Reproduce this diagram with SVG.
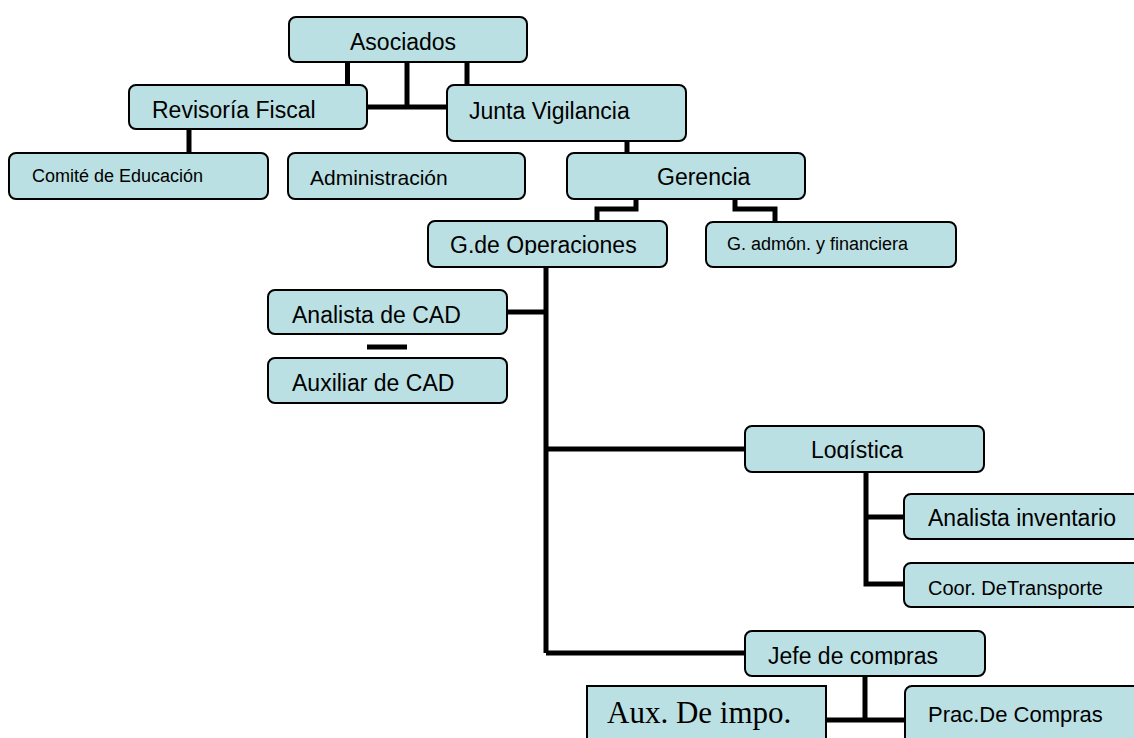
<svg xmlns="http://www.w3.org/2000/svg" width="1134" height="738" viewBox="0 0 1134 738">
<style>
.box{fill:#BBE0E3;stroke:#000;stroke-width:2}
.t{font-family:"Liberation Sans",Arial,sans-serif;font-size:23px;fill:#000}
.s{font-size:18px}
.serif{font-family:"Liberation Serif","Times New Roman",serif;font-size:31px;fill:#000}
.c{fill:none;stroke:#000;stroke-width:5}
</style>
<defs>
<clipPath id="cGop"><rect x="428" y="221" width="239" height="34"/></clipPath>
<clipPath id="cLog"><rect x="745" y="426" width="239" height="33"/></clipPath>
<clipPath id="cJefe"><rect x="745" y="631" width="240" height="34"/></clipPath>
</defs>
<rect width="1134" height="738" fill="#fff"/>
<g id="connectors">
<path class="c" d="M347.5 62V85M467 62V85M407 62V107M367 107H447"/>
<path class="c" d="M189 129V153"/>
<path class="c" d="M627 141V153"/>
<path class="c" stroke-width="4" d="M636 199V209H597V221"/>
<path class="c" stroke-width="4" d="M735 199V209H775V221"/>
<path class="c" d="M546 267V653"/>
<path class="c" stroke-width="4" d="M507 312H546"/>
<path class="c" d="M367 347H407"/>
<path class="c" d="M546 449H745M546 653H745"/>
<path class="c" d="M866 472V584H904M866 517H904"/>
<path class="c" d="M865 676V720M826 720H905"/>
</g>
<g id="asociados"><rect class="box" x="289" y="17" width="238" height="45" rx="7"/><text class="t" x="350" y="50">Asociados</text></g>
<g id="revisoria"><rect class="box" x="129" y="85" width="238" height="44" rx="7"/><text class="t" x="152" y="118">Revisoría Fiscal</text></g>
<g id="junta"><rect class="box" x="447" y="85" width="239" height="56" rx="7"/><text class="t" x="469" y="119">Junta Vigilancia</text></g>
<g id="comite"><rect class="box" x="9" y="153" width="259" height="46" rx="7"/><text class="t s" x="32" y="182">Comité de Educación</text></g>
<g id="administracion"><rect class="box" x="288" y="153" width="237" height="46" rx="7"/><text class="t" x="310" y="185" style="font-size:21px">Administración</text></g>
<g id="gerencia"><rect class="box" x="567" y="153" width="238" height="46" rx="7"/><text class="t" x="657" y="185">Gerencia</text></g>
<g id="goperaciones"><rect class="box" x="428" y="221" width="239" height="46" rx="7"/><text class="t" x="450" y="253" clip-path="url(#cGop)">G.de Operaciones</text></g>
<g id="gadmon"><rect class="box" x="706" y="222" width="250" height="45" rx="7"/><text class="t s" x="727" y="250">G. admón. y financiera</text></g>
<g id="analistacad"><rect class="box" x="268" y="290" width="239" height="44" rx="7"/><text class="t" x="292" y="323">Analista de CAD</text></g>
<g id="auxiliarcad"><rect class="box" x="268" y="358" width="239" height="45" rx="7"/><text class="t" x="292" y="391">Auxiliar de CAD</text></g>
<g id="logistica"><rect class="box" x="745" y="426" width="239" height="46" rx="7"/><text class="t" x="811" y="458" clip-path="url(#cLog)">Logística</text></g>
<g id="analistainv"><rect class="box" x="904" y="494" width="250" height="45" rx="7"/><text class="t" x="928" y="526">Analista inventario</text></g>
<g id="coor"><rect class="box" x="904" y="563" width="250" height="44" rx="7"/><text class="t" x="928" y="595" style="font-size:20px">Coor. DeTransporte</text></g>
<g id="jefe"><rect class="box" x="745" y="631" width="240" height="45" rx="7"/><text class="t" x="768" y="664" clip-path="url(#cJefe)">Jefe de compras</text></g>
<g id="auximpo"><rect class="box" x="587" y="686" width="239" height="70"/><text class="serif" x="607" y="723">Aux. De impo.</text></g>
<g id="prac"><rect class="box" x="905" y="686" width="250" height="70" rx="7"/><text class="t" x="928" y="722" style="font-size:22px">Prac.De Compras</text></g>
</svg>
